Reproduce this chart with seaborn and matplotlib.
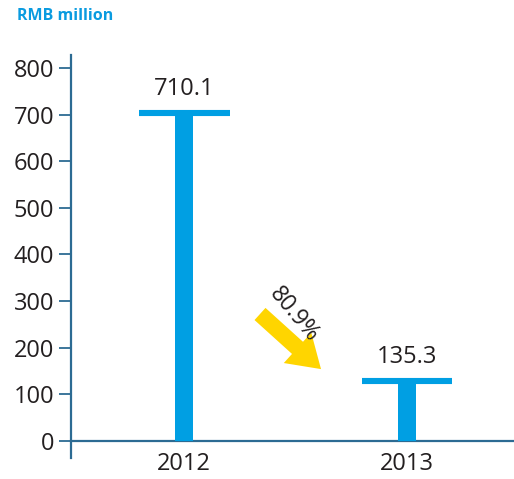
import numpy as np
import pandas as pd
import matplotlib
matplotlib.use("Agg")
import matplotlib.pyplot as plt
import seaborn as sns

# data
years = ["2012", "2013"]
profit = [710.1, 135.3]
value_labels = ["710.1", "135.3"]
change_label = "80.9%"
yticks = [0, 100, 200, 300, 400, 500, 600, 700, 800]

BAR = "#009fe3"
SPINE = "#2c6b93"
TEXT = "#231f20"
ARROW = "#ffd500"

sns.set_style("white")
plt.rcParams["font.family"] = ["Open Sans", "DejaVu Sans"]

df = pd.DataFrame({"year": years, "profit": profit})

fig = plt.figure(figsize=(5.14, 4.79), dpi=100)
ax = fig.add_axes([71 / 514, 21 / 479, 443 / 514, 403 / 479])

# stems of the T bars
sns.barplot(data=df, x="year", y="profit", color=BAR, width=0.078,
            saturation=1, linewidth=0, ax=ax, zorder=3)

ax.set_xlim(-0.507, 1.48)
ax.set_ylim(-37, 828)

# caps of the T bars (about 6 px thick, top edge at the value)
xs = np.arange(len(years))
vals = np.array(profit)
ax.hlines(vals - 6.5, xs - 0.204, xs + 0.204, colors=BAR, linewidth=4.4,
          zorder=3)

for x, v, lab in zip(xs, vals, value_labels):
    ax.text(x, v + 19, lab, ha="center", va="bottom", fontsize=17,
            color=TEXT)

# spines
for s in ["top", "right"]:
    ax.spines[s].set_visible(False)
ax.spines["bottom"].set_position(("data", 0))
ax.spines["bottom"].set_color(SPINE)
ax.spines["left"].set_color(SPINE)
ax.spines["bottom"].set_linewidth(1.6)
ax.spines["left"].set_linewidth(1.6)

ax.set_yticks(yticks)
ax.tick_params(axis="y", length=9, width=1.3, color=SPINE, labelsize=17,
               labelcolor=TEXT, pad=3, left=True)
ax.tick_params(axis="x", length=0, labelsize=17, labelcolor=TEXT, pad=8)
ax.set_xlabel("")
ax.set_ylabel("")

# decline arrow with percentage
ax.annotate("", xy=(0.569, 0.216), xytext=(0.422, 0.362),
            xycoords="axes fraction", textcoords="axes fraction",
            arrowprops=dict(arrowstyle="simple,head_length=1.2,head_width=1.55,tail_width=0.62",
                            color=ARROW, mutation_scale=19, lw=0))
ax.text(0.503, 0.357, change_label, transform=ax.transAxes, rotation=-50,
        ha="center", va="center", fontsize=16.5, color=TEXT,
        rotation_mode="anchor")

fig.text(17 / 514, 1 - 16 / 479, "RMB million", fontsize=11.5,
         fontweight="bold", color="#0a9be0", ha="left", va="center")

fig.savefig("out.png", dpi=100)
